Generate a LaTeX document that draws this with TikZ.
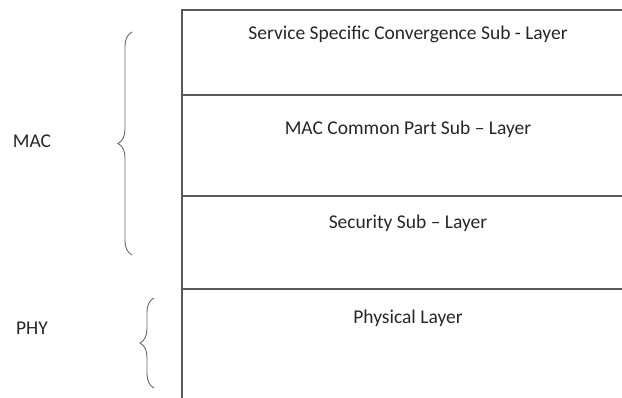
\documentclass[tikz,border=0pt]{standalone}
\usepackage{fontspec}
\setmainfont{Carlito}
\usetikzlibrary{decorations.pathreplacing,positioning}

\tikzset{
  layerline/.style={draw=black!65, line width=1.2pt},
  layertext/.style={font=\fontsize{19.5}{23}\selectfont, text=black!85},
  sidebrace/.style={draw=black!60, line width=0.9pt, decorate, decoration={brace, amplitude=14pt}}
}

\begin{document}
\begin{tikzpicture}[x=1pt, y=1pt]
    \useasboundingbox (0,0) rectangle (622,398);
    % stack outline
    \coordinate (top) at (182,388);
    \coordinate (bot) at (182,0);
    \draw[layerline] (bot) -- (top) -- (622,388);
    \foreach \y/\name in {303/sscs, 202/cps, 109/sec}
        \draw[layerline] (182,\y) coordinate (\name l) -- (622,\y) coordinate (\name r);
    % layer labels
    \node[layertext] (ssc) at (408,364) {Service Specific Convergence Sub - Layer};
    \node[layertext] (cpsl) at (408,269) {MAC Common Part Sub – Layer};
    \node[layertext] (secl) at (408,175) {Security Sub – Layer};
    \node[layertext] (phyl) at (408,80) {Physical Layer};
    % groups
    \coordinate (macb) at (132,143);
    \coordinate (mact) at (132,366);
    \coordinate (phyb) at (154,10);
    \coordinate (phyt) at (154,100);
    \draw[sidebrace] (macb) -- (mact);
    \draw[sidebrace] (phyb) -- (phyt);
    \node[layertext] (mac) at (32,257) {MAC};
    \node[layertext] (phy) at (32,70) {PHY};
\end{tikzpicture}
\end{document}
